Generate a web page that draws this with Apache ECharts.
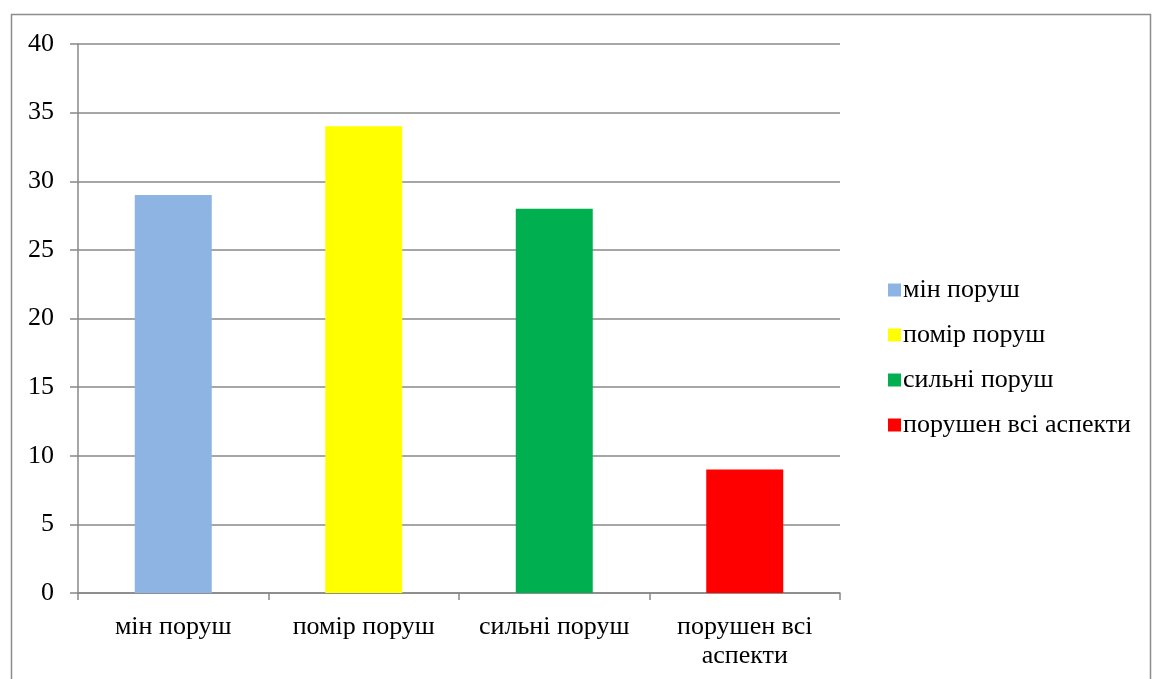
<!DOCTYPE html>
<html>
<head>
<meta charset="utf-8">
<script src="https://cdn.jsdelivr.net/npm/echarts@6/dist/echarts.min.js"></script>
<style>
  html, body { margin: 0; padding: 0; background: #fff; }
  #chart { width: 1152px; height: 679px; }
</style>
</head>
<body>
<div id="chart"></div>
<script>
// дані з діаграми
const categories = ['мін поруш', 'помір поруш', 'сильні поруш', 'порушен всі аспекти'];
const values = [29, 34, 28, 9];
const colors = ['#8eb4e3', '#ffff00', '#00b050', '#ff0000'];
const yTicks = [0, 5, 10, 15, 20, 25, 30, 35, 40];

const chart = echarts.init(document.getElementById('chart'), null, { renderer: 'canvas' });

const font = 'Liberation Serif';

// одна серія на категорію, щоб легенда показувала всі чотири кольори
const series = categories.map(function (name, i) {
    const d = categories.map(function (c, j) { return j === i ? values[i] : null; });
    return {
        name: name,
        type: 'bar',
        data: d,
        barWidth: 77,
        barGap: '-100%',
        itemStyle: { color: colors[i] },
        emphasis: { disabled: true }
    };
});

// довгі підписи переносимо по останньому пробілу
function wrapLabel(v) {
    if (v.length <= 14) return v;
    const k = v.lastIndexOf(' ');
    return v.slice(0, k) + '\n' + v.slice(k + 1);
}

chart.setOption({
    animation: false,
    graphic: [{
        type: 'rect',
        shape: { x: 11.5, y: 14.5, width: 1139, height: 700 },
        style: { fill: 'none', stroke: '#8c8c8c', lineWidth: 1.5 },
        z: -1
    }],
    grid: { left: 78, right: 312, top: 44, bottom: 86, outerBoundsMode: 'none', containLabel: false },
    legend: {
        orient: 'vertical',
        left: 883,
        top: 272,
        itemWidth: 13,
        itemHeight: 13,
        itemGap: 19,
        icon: 'rect',
        textStyle: { fontFamily: font, fontSize: 26, color: '#000', padding: [0, 0, 0, -3] },
        data: categories
    },
    xAxis: {
        type: 'category',
        data: categories,
        axisLine: { lineStyle: { color: '#888', width: 1.5 } },
        axisTick: { show: true, length: 7, alignWithLabel: false, lineStyle: { color: '#888', width: 1.5 } },
        axisLabel: {
            fontFamily: font, fontSize: 26, color: '#000', margin: 20,
            lineHeight: 29, interval: 0, hideOverlap: false,
            formatter: wrapLabel
        }
    },
    yAxis: {
        type: 'value',
        min: yTicks[0],
        max: yTicks[yTicks.length - 1],
        interval: 5,
        axisLine: { show: true, lineStyle: { color: '#888', width: 1.5 } },
        axisTick: { show: true, length: 8, lineStyle: { color: '#888', width: 1.5 } },
        splitLine: { lineStyle: { color: '#888', width: 1.5 } },
        axisLabel: { fontFamily: font, fontSize: 26, color: '#000', margin: 24 }
    },
    series: series
});
</script>
</body>
</html>
